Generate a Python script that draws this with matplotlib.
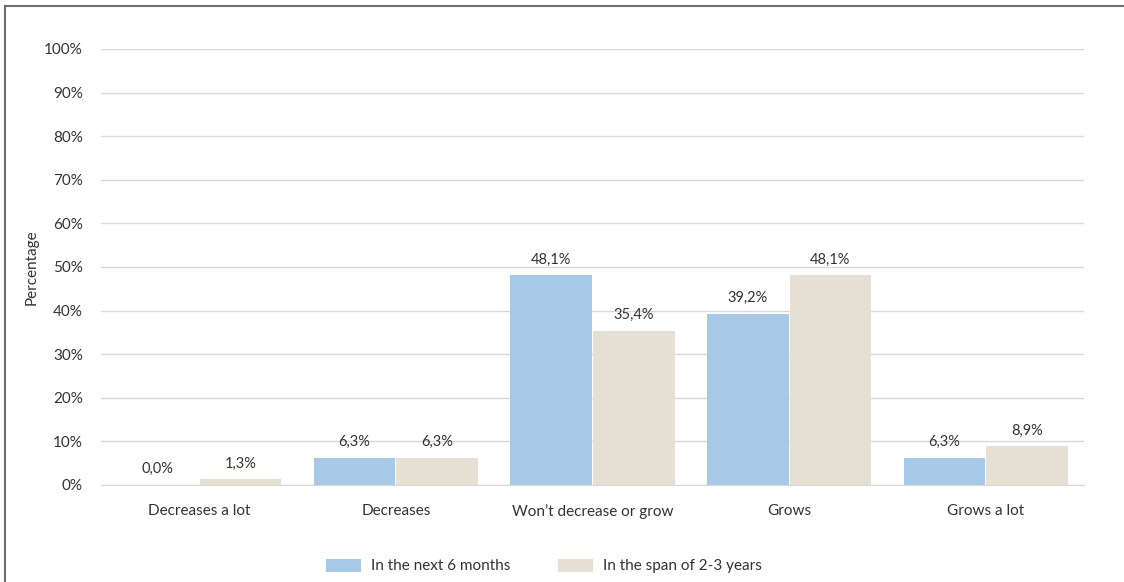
import matplotlib.pyplot as plt
import numpy as np
from matplotlib.lines import Line2D
from matplotlib.ticker import PercentFormatter

categories = ['Decreases a lot', 'Decreases', 'Won\u2019t decrease or grow', 'Grows', 'Grows a lot']
next_6_months = [0.0, 6.3, 48.1, 39.2, 6.3]
span_2_3_years = [1.3, 6.3, 35.4, 48.1, 8.9]
series_names = ['In the next 6 months', 'In the span of 2-3 years']

plt.rcParams['font.family'] = ['Lato', 'DejaVu Sans']

fig = plt.figure(figsize=(11.24, 5.82), dpi=100)
ax = fig.add_axes([101 / 1124, 1 - 485 / 582, 983 / 1124, 436 / 582])

x = np.arange(len(categories))
w = 0.415
b1 = ax.bar(x - w / 2 - 0.003, next_6_months, w, color='#a7c8e6', label=series_names[0])
b2 = ax.bar(x + w / 2 + 0.003, span_2_3_years, w, color='#e6e0d4', label=series_names[1])

# etiquetas de valor
for bars, vals in ((b1, next_6_months), (b2, span_2_3_years)):
    for bar, v in zip(bars, vals):
        txt = f'{v:.1f}'.replace('.', ',') + '%'
        ax.text(bar.get_x() + bar.get_width() / 2, v + 2.0, txt,
                ha='center', va='bottom', fontsize=10.5, color='#333333')

ax.set_xlim(-0.5, len(categories) - 0.5)
ax.set_ylim(0, 100)
ax.set_yticks(range(0, 101, 10))
ax.yaxis.set_major_formatter(PercentFormatter(decimals=0))
ax.set_xticks(x)
ax.set_xticklabels(categories)
ax.grid(axis='y', color='#d9d9d9', linewidth=1)
ax.set_axisbelow(True)
for s in ('top', 'right', 'left'):
    ax.spines[s].set_visible(False)
ax.spines['bottom'].set_color('#d9d9d9')
ax.tick_params(axis='both', length=0, labelsize=11, colors='#333333')
ax.tick_params(axis='y', pad=13)
ax.tick_params(axis='x', pad=14)
ax.set_ylabel('Percentage', fontsize=11, color='#333333', labelpad=4)

fig.legend(handles=[b1, b2], labels=series_names, loc='center', bbox_to_anchor=(544 / 1124, 1 - 566 / 582),
           ncol=2, frameon=False, fontsize=11, handlelength=2.3, handleheight=0.95,
           handletextpad=0.65, columnspacing=3.1, labelcolor='#333333')

# marco recortado
fig.add_artist(Line2D([5 / 1124, 1], [1 - 6 / 582, 1 - 6 / 582], color='#6e6e6e', linewidth=1.5))
fig.add_artist(Line2D([5 / 1124, 5 / 1124], [0, 1 - 6 / 582], color='#6e6e6e', linewidth=1.5))

fig.savefig('out.png', dpi=100)
